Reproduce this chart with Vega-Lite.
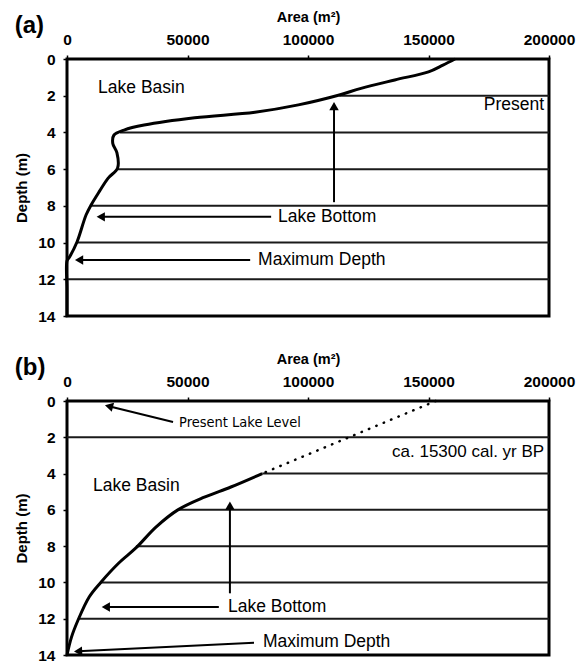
{
  "$schema": "https://vega.github.io/schema/vega-lite/v6.json",
  "autosize": {"type": "pad"},
  "padding": {"left": 13, "top": 7, "right": 5, "bottom": 1},
  "background": "white",
  "spacing": 23,
  "config": {
    "font": "Liberation Sans",
    "view": {"stroke": "black", "strokeWidth": 3},
    "axis": {
      "domain": false,
      "grid": false,
      "ticks": true,
      "tickColor": "black",
      "tickWidth": 1.5,
      "tickSize": 4,
      "labelFont": "Liberation Sans",
      "labelFontWeight": "bold",
      "labelFontSize": 15.5,
      "labelColor": "black",
      "labelPadding": 8,
      "labelFlush": false,
      "labelOverlap": false,
      "titleFont": "Liberation Sans",
      "titleFontWeight": "bold",
      "titleColor": "black",
      "titlePadding": 8
    },
    "title": {"font": "Liberation Sans", "fontSize": 24, "fontWeight": "bold", "color": "black", "anchor": "start", "frame": "bounds", "offset": -29}
  },
  "vconcat": [
    {
      "width": 482,
      "height": 257,
      "title": {"text": "(a)"},
      "encoding": {
        "x": {"field": "area", "type": "quantitative", "scale": {"domain": [0, 200000], "nice": false, "zero": false},
          "axis": {"orient": "top", "values": [0, 50000, 100000, 150000, 200000], "format": "d", "title": "Area (m²)", "titleFontSize": 14.5}},
        "y": {"field": "depth", "type": "quantitative", "scale": {"domain": [0, 14], "reverse": true, "nice": false},
          "axis": {"values": [0, 2, 4, 6, 8, 10, 12, 14], "title": "Depth (m)", "titleFontSize": 15}}
      },
      "layer": [
        {
          "data": {"values": [
            {"depth": 2, "area": 113000},
            {"depth": 4, "area": 22000},
            {"depth": 6, "area": 21000},
            {"depth": 8, "area": 10000},
            {"depth": 10, "area": 4150},
            {"depth": 12, "area": 0}
          ]},
          "mark": {"type": "rule", "color": "#1a1a1a", "strokeWidth": 2},
          "encoding": {"x2": {"datum": 200000}}
        },
        {
          "data": {"values": [
            {"depth": 0, "area": 161000},
            {"depth": 0.33, "area": 156000},
            {"depth": 0.7, "area": 150000},
            {"depth": 1.14, "area": 136000},
            {"depth": 1.6, "area": 122000},
            {"depth": 1.96, "area": 113000},
            {"depth": 2.5, "area": 96000},
            {"depth": 2.9, "area": 78000},
            {"depth": 3.2, "area": 53000},
            {"depth": 3.6, "area": 32000},
            {"depth": 3.87, "area": 23700},
            {"depth": 4.14, "area": 19500},
            {"depth": 4.6, "area": 19000},
            {"depth": 5.1, "area": 20700},
            {"depth": 5.94, "area": 21000},
            {"depth": 6.5, "area": 17000},
            {"depth": 7.2, "area": 13500},
            {"depth": 7.95, "area": 10000},
            {"depth": 8.5, "area": 7900},
            {"depth": 9.97, "area": 4150},
            {"depth": 10.8, "area": 1000},
            {"depth": 11, "area": 0},
            {"depth": 12.5, "area": 0},
            {"depth": 14, "area": 0}
          ]},
          "mark": {"type": "line", "color": "black", "strokeWidth": 3, "interpolate": "catmull-rom"},
          "encoding": {"order": {"field": "depth", "type": "quantitative"}}
        },
        {
          "data": {"values": [
            {"area": 110800, "depth": 7.8, "area_end": 110800, "depth_end": 2.6},
            {"area": 84700, "depth": 8.6, "area_end": 14000, "depth_end": 8.6},
            {"area": 76000, "depth": 10.95, "area_end": 5000, "depth_end": 10.95}
          ]},
          "mark": {"type": "rule", "color": "black", "strokeWidth": 2},
          "encoding": {"x2": {"field": "area_end"}, "y2": {"field": "depth_end"}}
        },
        {
          "data": {"values": [{"area": 110800, "depth": 2.57}]},
          "mark": {"type": "point", "shape": "triangle-up", "filled": true, "color": "black", "opacity": 1, "size": 90}
        },
        {
          "data": {"values": [{"area": 14000, "depth": 8.6}, {"area": 5000, "depth": 10.95}]},
          "mark": {"type": "point", "shape": "triangle-left", "filled": true, "color": "black", "opacity": 1, "size": 90}
        },
        {
          "data": {"values": [
            {"label": "Lake Basin", "area": 12900, "depth": 1.6},
            {"label": "Lake Bottom", "area": 87600, "depth": 8.6},
            {"label": "Maximum Depth", "area": 79300, "depth": 10.95}
          ]},
          "mark": {"type": "text", "align": "left", "baseline": "middle", "fontSize": 17.5, "color": "black", "font": "Liberation Sans"},
          "encoding": {"text": {"field": "label"}}
        },
        {
          "data": {"values": [{"label": "Present", "area": 198000, "depth": 2.5}]},
          "mark": {"type": "text", "align": "right", "baseline": "middle", "fontSize": 17.5, "color": "black", "font": "Liberation Sans"},
          "encoding": {"text": {"field": "label"}}
        }
      ]
    },
    {
      "width": 482,
      "height": 254,
      "title": {"text": "(b)"},
      "encoding": {
        "x": {"field": "area", "type": "quantitative", "scale": {"domain": [0, 200000], "nice": false, "zero": false},
          "axis": {"orient": "top", "values": [0, 50000, 100000, 150000, 200000], "format": "d", "title": "Area (m²)", "titleFontSize": 14.5}},
        "y": {"field": "depth", "type": "quantitative", "scale": {"domain": [0, 14], "reverse": true, "nice": false},
          "axis": {"values": [0, 2, 4, 6, 8, 10, 12, 14], "title": "Depth (m)", "titleFontSize": 15}}
      },
      "layer": [
        {
          "data": {"values": [
            {"depth": 2, "area": 0},
            {"depth": 4, "area": 81000},
            {"depth": 6, "area": 46000},
            {"depth": 8, "area": 28600},
            {"depth": 10, "area": 14000},
            {"depth": 12, "area": 4600}
          ]},
          "mark": {"type": "rule", "color": "#1a1a1a", "strokeWidth": 2},
          "encoding": {"x2": {"datum": 200000}}
        },
        {
          "data": {"values": [
            {"depth": 4, "area": 81000},
            {"depth": 4.74, "area": 68000},
            {"depth": 5.3, "area": 57000},
            {"depth": 6.0, "area": 46000},
            {"depth": 6.95, "area": 36900},
            {"depth": 8.1, "area": 28600},
            {"depth": 8.93, "area": 21500},
            {"depth": 10.0, "area": 14000},
            {"depth": 10.8, "area": 9200},
            {"depth": 12.07, "area": 4600},
            {"depth": 13.0, "area": 1900},
            {"depth": 14, "area": 0}
          ]},
          "mark": {"type": "line", "color": "black", "strokeWidth": 3, "interpolate": "catmull-rom"},
          "encoding": {"order": {"field": "depth", "type": "quantitative"}}
        },
        {
          "data": {"values": [
            {"depth": 0, "area": 153000},
            {"depth": 4, "area": 81000}
          ]},
          "mark": {"type": "line", "color": "black", "strokeWidth": 2.5, "strokeDash": [0.5, 7.5], "strokeCap": "round"},
          "encoding": {"order": {"field": "depth", "type": "quantitative"}}
        },
        {
          "data": {"values": [
            {"area": 44000, "depth": 1.16, "area_end": 17400, "depth_end": 0.29},
            {"area": 67600, "depth": 10.6, "area_end": 67600, "depth_end": 5.77},
            {"area": 63000, "depth": 11.35, "area_end": 16100, "depth_end": 11.35},
            {"area": 77600, "depth": 13.32, "area_end": 4600, "depth_end": 13.8}
          ]},
          "mark": {"type": "rule", "color": "black", "strokeWidth": 2},
          "encoding": {"x2": {"field": "area_end"}, "y2": {"field": "depth_end"}}
        },
        {
          "data": {"values": [{"area": 17400, "depth": 0.29}]},
          "mark": {"type": "point", "shape": "triangle-left", "filled": true, "color": "black", "opacity": 1, "size": 90, "angle": 14}
        },
        {
          "data": {"values": [{"area": 67600, "depth": 5.77}]},
          "mark": {"type": "point", "shape": "triangle-up", "filled": true, "color": "black", "opacity": 1, "size": 90}
        },
        {
          "data": {"values": [{"area": 16100, "depth": 11.35}]},
          "mark": {"type": "point", "shape": "triangle-left", "filled": true, "color": "black", "opacity": 1, "size": 90}
        },
        {
          "data": {"values": [{"area": 4600, "depth": 13.8}]},
          "mark": {"type": "point", "shape": "triangle-left", "filled": true, "color": "black", "opacity": 1, "size": 90, "angle": -3}
        },
        {
          "data": {"values": [
            {"label": "Lake Basin", "area": 10800, "depth": 4.7},
            {"label": "Lake Bottom", "area": 66800, "depth": 11.35},
            {"label": "Maximum Depth", "area": 81300, "depth": 13.3}
          ]},
          "mark": {"type": "text", "align": "left", "baseline": "middle", "fontSize": 17.5, "color": "black", "font": "Liberation Sans"},
          "encoding": {"text": {"field": "label"}}
        },
        {
          "data": {"values": [{"label": "Present Lake Level", "area": 46500, "depth": 1.2}]},
          "mark": {"type": "text", "align": "left", "baseline": "middle", "fontSize": 14.5, "color": "black", "font": "DejaVu Sans Condensed, Liberation Sans"},
          "encoding": {"text": {"field": "label"}}
        },
        {
          "data": {"values": [{"label": "ca. 15300 cal. yr BP", "area": 198000, "depth": 2.8}]},
          "mark": {"type": "text", "align": "right", "baseline": "middle", "fontSize": 17, "color": "black", "font": "Liberation Sans"},
          "encoding": {"text": {"field": "label"}}
        }
      ]
    }
  ]
}
